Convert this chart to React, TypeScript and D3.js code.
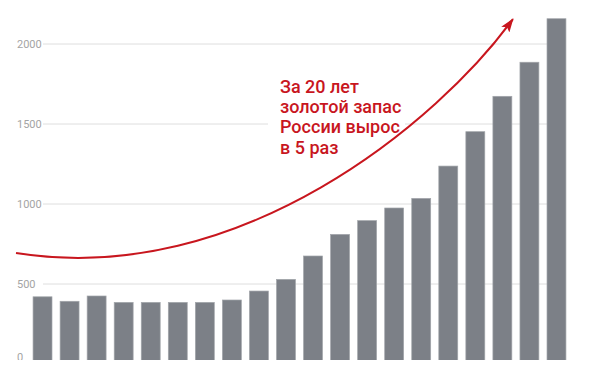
import React, { useEffect, useRef } from "react";
import * as d3 from "d3";

// gold reserves, tonnes
const years = d3.range(20).map((i) => `${i + 1}`);
const values = [420, 392, 425, 385, 385, 385, 385, 400, 456, 529, 675, 810, 896, 975, 1035, 1237, 1452, 1673, 1886, 2158];
const yTicks = [0, 500, 1000, 1500, 2000];
const noteLines = ["За 20 лет", "золотой запас", "России вырос", "в 5 раз"];

// annotation arrow as one cubic curve, in [bar index, value] units
const arrowStart: [number, number] = [-0.98, 694];
const arrowCtrl1: [number, number] = [7.3, 469];
const arrowCtrl2: [number, number] = [14.69, 1525];
const arrowEnd: [number, number] = [17.39, 2156];

const W = 600;
const H = 368;

export default function App() {
  const el = useRef<SVGSVGElement>(null);

  useEffect(() => {
    const svg = d3.select(el.current);
    svg.selectAll("*").remove();

    const x = d3.scaleBand().domain(years).range([29, 570]).paddingInner(0.3).paddingOuter(0.15);
    const y = d3.scaleLinear().domain([0, 2000]).range([364, 44]);
    const xi = d3.scaleLinear()
      .domain([0, 19])
      .range([x(years[0])! + x.bandwidth() / 2, x(years[19])! + x.bandwidth() / 2]);

    const red = "#c8161e";

    // gridlines
    svg.append("g")
      .selectAll("line")
      .data(yTicks.filter((d) => d > 0))
      .join("line")
      .attr("x1", 43)
      .attr("x2", 565)
      .attr("y1", (d) => y(d))
      .attr("y2", (d) => y(d))
      .attr("stroke", "#dedede")
      .attr("stroke-width", 1);

    svg.append("g")
      .selectAll("text")
      .data(yTicks)
      .join("text")
      .attr("x", 17)
      .attr("y", (d) => (d === 0 ? y(d) - 7 : y(d)))
      .attr("dominant-baseline", "central")
      .attr("font-family", "Roboto")
      .attr("font-size", 11)
      .attr("fill", "#a4a4a4")
      .text((d) => d);

    // bars
    svg.append("g")
      .selectAll("rect")
      .data(values)
      .join("rect")
      .attr("x", (_, i) => x(years[i])!)
      .attr("y", (d) => y(d))
      .attr("width", x.bandwidth())
      .attr("height", (d) => y(0) - y(d))
      .attr("fill", "#7c8087")
      .attr("stroke", "#a2a5aa")
      .attr("stroke-width", 0.7);

    svg.append("line")
      .attr("x1", 16)
      .attr("x2", 565)
      .attr("y1", y(0) + 0.5)
      .attr("y2", y(0) + 0.5)
      .attr("stroke", "#9a9a9a")
      .attr("stroke-width", 2);

    // annotation text
    svg.append("rect")
      .attr("x", 268)
      .attr("y", 74)
      .attr("width", 137)
      .attr("height", 84)
      .attr("fill", "#fff");

    svg.append("g")
      .selectAll("text")
      .data(noteLines)
      .join("text")
      .attr("x", 280)
      .attr("y", (_, i) => 93 + i * 20.2)
      .attr("font-family", "Roboto")
      .attr("font-weight", 500)
      .attr("font-size", 18)
      .attr("fill", red)
      .text((d) => d);

    // arrow
    svg.append("defs")
      .append("marker")
      .attr("id", "head")
      .attr("markerUnits", "userSpaceOnUse")
      .attr("viewBox", "0 0 14 10")
      .attr("markerWidth", 14)
      .attr("markerHeight", 10)
      .attr("refX", 13)
      .attr("refY", 5)
      .attr("orient", "auto")
      .append("path")
      .attr("d", "M0,0 L14,5 L0,10 L3,5 Z")
      .attr("fill", red);

    const p = d3.path();
    p.moveTo(xi(arrowStart[0]), y(arrowStart[1]));
    p.bezierCurveTo(
      xi(arrowCtrl1[0]), y(arrowCtrl1[1]),
      xi(arrowCtrl2[0]), y(arrowCtrl2[1]),
      xi(arrowEnd[0]), y(arrowEnd[1])
    );

    svg.append("path")
      .attr("d", p.toString())
      .attr("fill", "none")
      .attr("stroke", red)
      .attr("stroke-width", 2)
      .attr("marker-end", "url(#head)");
  }, []);

  return (
    <div style={{ margin: -8 }}>
      <svg ref={el} width={W} height={H} style={{ display: "block", background: "#fff" }} />
    </div>
  );
}
